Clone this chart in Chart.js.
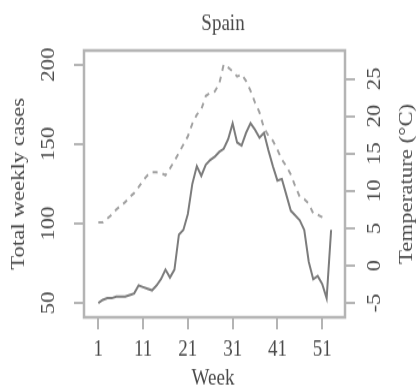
<!DOCTYPE html>
<html>
<head>
<meta charset="utf-8">
<script src="https://cdn.jsdelivr.net/npm/chart.js@4"></script>
<style>
  html, body { margin: 0; padding: 0; background: #fff; }
</style>
</head>
<body>
<!-- the reference is a bit taller than wide in its proportions, so the
     canvas is drawn at 417x322 and stretched to 387 px high -->
<canvas id="chart" width="417" height="322" style="display:block;width:417px;height:387px"></canvas>
<script>
// --- Data ---
const weeks = [1, 2, 3, 4, 5, 6, 7, 8, 9, 10, 11, 12, 13, 14, 15, 16, 17, 18, 19, 20,
    21, 22, 23, 24, 25, 26, 27, 28, 29, 30, 31, 32, 33, 34, 35, 36, 37, 38, 39, 40,
    41, 42, 43, 44, 45, 46, 47, 48, 49, 50, 51, 52, 53];

// total weekly cases (solid line, left axis)
const cases = [50, 52, 53, 53, 54, 54, 54, 55, 56, 61, 60, 59, 58, 61, 65, 71, 66, 71, 93, 96,
    106, 125, 136, 130, 137, 140, 142, 145, 147, 153, 163, 151, 149, 157, 163, 159, 154, 157, 146, 136,
    127, 128, 118, 108, 105, 102, 96, 76, 65, 67, 62, 53, 96];

// temperature in °C (dashed line, right axis), weeks 1..52
const temps = [5.8, 5.8, 6.3, 6.8, 7.5, 8.0, 8.5, 9.2, 9.7, 10.5, 11.4, 12.1, 12.5, 12.5, 12.4, 12.1, 13.0, 14.0, 15.1, 16.2,
    17.3, 19.0, 20.2, 20.9, 22.7, 23.1, 23.3, 24.3, 26.9, 26.5, 26.0, 25.3, 25.6, 24.7, 23.4, 21.8, 20.5, 18.4, 17.4, 16.7,
    15.5, 14.2, 13.3, 12.2, 10.6, 9.2, 8.9, 8.3, 7.0, 6.8, 6.5, 6.1];

const xTicks = [1, 11, 21, 31, 41, 51];
const caseTicks = [50, 100, 150, 200];
const tempTicks = [-5, 0, 5, 10, 15, 20, 25];

const titleText = 'Spain';
const xTitle = 'Week';
const yTitle = 'Total weekly cases';
const y2Title = 'Temperature (°C)';

// --- Styling ---
const textColor = '#4a4a4a';
const boxColor = '#b4b4b4';
const font = '19px "Liberation Serif", "Times New Roman", serif';

// box round the plot + all texts, R style (labels parallel to the axes)
const rStylePlugin = {
    id: 'rStyle',
    afterDraw(chart) {
        const ctx = chart.ctx;
        const area = chart.chartArea;
        const sx = chart.scales.x, sy = chart.scales.y, sy2 = chart.scales.y2;

        ctx.save();
        ctx.strokeStyle = boxColor;
        ctx.lineWidth = 2.5;
        ctx.strokeRect(area.left, area.top, area.right - area.left, area.bottom - area.top);

        ctx.fillStyle = textColor;
        ctx.font = font;
        ctx.textAlign = 'center';

        // title
        ctx.textBaseline = 'alphabetic';
        ctx.fillText(titleText, 223, 25);
        ctx.fillText(xTitle, 213, 320);

        // x tick labels
        ctx.textBaseline = 'middle';
        xTicks.forEach(v => ctx.fillText(String(v), sx.getPixelForValue(v), 291));

        const rotText = (txt, x, y) => {
            ctx.save();
            ctx.translate(x, y);
            ctx.rotate(-Math.PI / 2);
            ctx.fillText(txt, 0, 0);
            ctx.restore();
        };

        caseTicks.forEach(v => rotText(String(v), 49, sy.getPixelForValue(v)));
        tempTicks.forEach(v => rotText(String(v), 375, sy2.getPixelForValue(v)));

        const midY = (area.top + area.bottom) / 2;
        rotText(yTitle, 19, midY);
        rotText(y2Title, 407, midY);
        ctx.restore();
    }
};

function tickGrid() {
    return {
        drawOnChartArea: false,
        drawTicks: true,
        tickLength: 10,
        color: boxColor,
        lineWidth: 2
    };
}

const ctx = document.getElementById('chart').getContext('2d');
new Chart(ctx, {
    type: 'line',
    data: {
        datasets: [
            {
                label: 'Cases',
                data: weeks.map((w, i) => ({ x: w, y: cases[i] })),
                yAxisID: 'y',
                borderColor: '#7c7c7c',
                borderWidth: 2,
                pointRadius: 0,
                tension: 0
            },
            {
                label: 'Temperature',
                data: temps.map((t, i) => ({ x: weeks[i], y: t })),
                yAxisID: 'y2',
                borderColor: '#a2a2a2',
                borderDash: [5, 5],
                borderWidth: 2,
                pointRadius: 0,
                tension: 0
            }
        ]
    },
    options: {
        responsive: false,
        devicePixelRatio: 1,
        animation: false,
        layout: { padding: { top: 42, left: 0, right: 0, bottom: 0 } },
        plugins: {
            legend: { display: false },
            tooltip: { enabled: false }
        },
        scales: {
            x: {
                type: 'linear',
                min: -2.2,
                max: 56.1,
                afterBuildTicks: s => { s.ticks = xTicks.map(v => ({ value: v })); },
                afterFit: s => { s.height = 58; },
                grid: tickGrid(),
                border: { display: false },
                ticks: { color: 'rgba(0,0,0,0)' }
            },
            y: {
                position: 'left',
                min: 41,
                max: 208.8,
                afterBuildTicks: s => { s.ticks = caseTicks.map(v => ({ value: v })); },
                afterFit: s => { s.width = 84; },
                grid: tickGrid(),
                border: { display: false },
                ticks: { color: 'rgba(0,0,0,0)' }
            },
            y2: {
                position: 'right',
                min: -6.91,
                max: 28.78,
                afterBuildTicks: s => { s.ticks = tempTicks.map(v => ({ value: v })); },
                afterFit: s => { s.width = 72; },
                grid: tickGrid(),
                border: { display: false },
                ticks: { color: 'rgba(0,0,0,0)' }
            }
        }
    },
    plugins: [rStylePlugin]
});
</script>
</body>
</html>
